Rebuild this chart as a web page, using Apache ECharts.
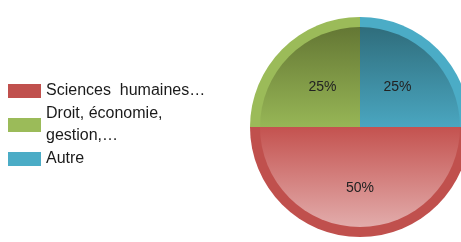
<!DOCTYPE html>
<html>
<head>
<meta charset="utf-8">
<script src="https://cdn.jsdelivr.net/npm/echarts@6/dist/echarts.min.js"></script>
<style>
  html, body { margin: 0; padding: 0; background: #fff; }
  #chart { width: 461px; height: 242px; }
</style>
</head>
<body>
<div id="chart"></div>
<script>
// ordre de tracé : Autre (haut droite), Sciences (bas), Droit (haut gauche)
const categories = ['Autre', 'Sciences humaines…', 'Droit, économie, gestion,…'];
const values = [25, 50, 25];
const legendOrder = ['Sciences humaines…', 'Droit, économie, gestion,…', 'Autre'];
const legendLabels = {
  'Sciences humaines…': 'Sciences  humaines…',
  'Droit, économie, gestion,…': 'Droit, économie,\ngestion,…',
  'Autre': 'Autre'
};

const ringColors = ['#4bacc6', '#c0504d', '#9bbb59'];
const fillTop = ['#2f6d7c', '#c4524f', '#647734'];
const fillBottom = ['#4aa6c0', '#e2acab', '#97b656'];

function grad(top, bottom) {
  return new echarts.graphic.LinearGradient(0, 0, 0, 1, [
    { offset: 0, color: top },
    { offset: 1, color: bottom }
  ]);
}

const chart = echarts.init(document.getElementById('chart'));

const option = {
  animation: false,
  legend: {
    orient: 'vertical',
    left: 3,
    top: 75,
    itemWidth: 33,
    itemHeight: 14,
    itemGap: 1,
    icon: 'rect',
    data: legendOrder,
    formatter: name => legendLabels[name],
    textStyle: {
      fontFamily: 'Liberation Sans, Arial, sans-serif',
      fontSize: 16,
      lineHeight: 22,
      color: '#1a1a1a'
    }
  },
  series: [
    {
      type: 'pie',
      center: [360, 127],
      radius: [0, 110],
      startAngle: 90,
      silent: true,
      label: { show: false },
      labelLine: { show: false },
      data: categories.map((c, i) => ({
        name: c,
        value: values[i],
        itemStyle: { color: ringColors[i] }
      }))
    },
    {
      type: 'pie',
      center: [360, 127],
      radius: [0, 100],
      startAngle: 90,
      label: {
        show: true,
        position: 'inside',
        formatter: '{d}%',
        color: '#222',
        fontFamily: 'Liberation Sans, Arial, sans-serif',
        fontSize: 14,
        offset: [0, -2]
      },
      labelLine: { show: false },
      data: categories.map((c, i) => ({
        name: c,
        value: values[i],
        itemStyle: { color: grad(fillTop[i], fillBottom[i]) },
        label: values[i] === 50 ? { offset: [0, 8] } : undefined
      }))
    }
  ]
};

chart.setOption(option);
</script>
</body>
</html>
